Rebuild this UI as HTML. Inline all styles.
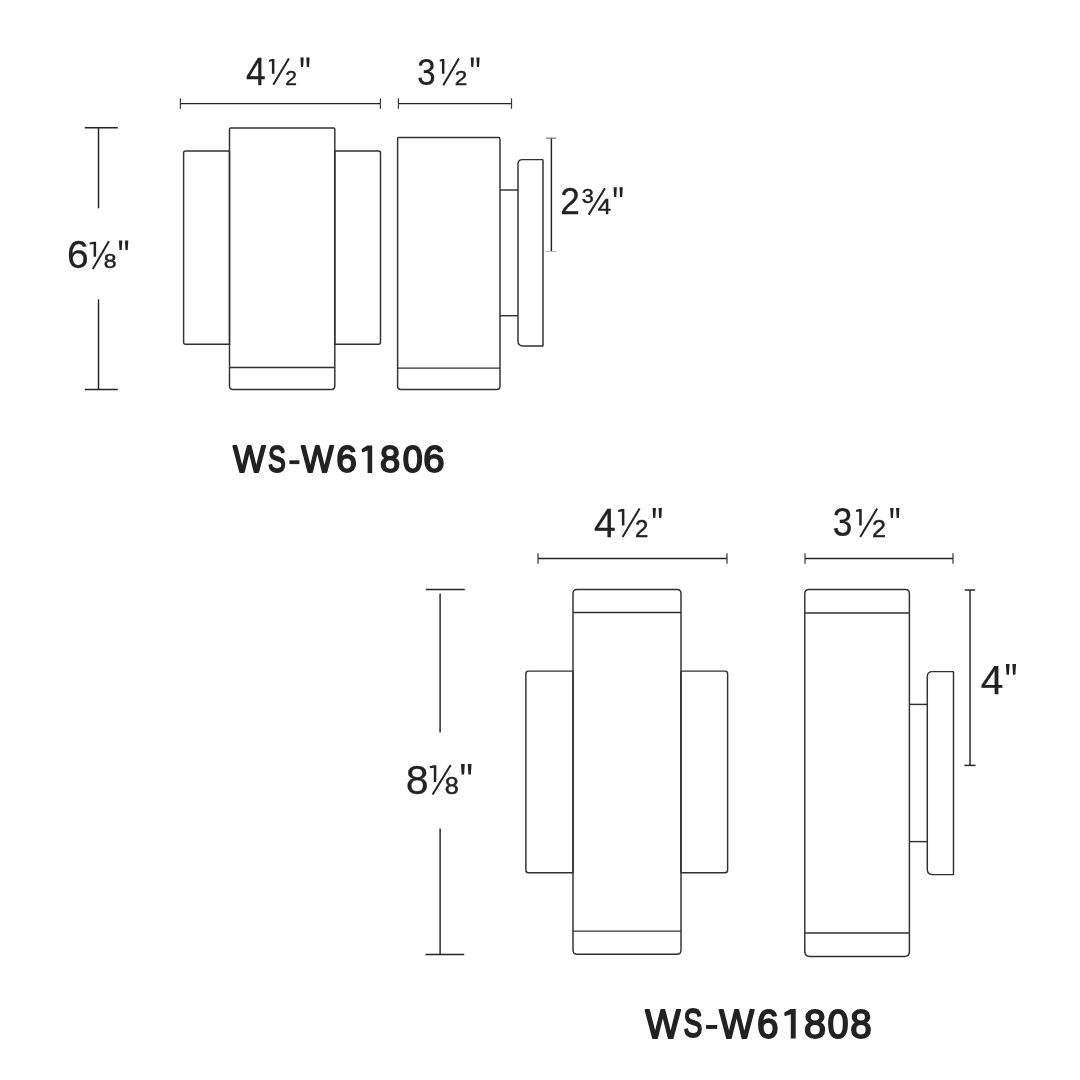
<!DOCTYPE html>
<html><head><meta charset="utf-8"><title>WS-W618 dimensions</title>
<style>
html,body{margin:0;padding:0;background:#fff;}
body{width:1080px;height:1080px;overflow:hidden;}
svg{display:block;will-change:transform;}
text{font-family:"Liberation Sans",sans-serif;font-kerning:none;}
</style></head><body>
<svg width="1080" height="1080" viewBox="0 0 1080 1080">
<rect width="1080" height="1080" fill="#fff"/>
<line x1="180.40" y1="103.60" x2="380.40" y2="103.60" stroke="#222" stroke-width="1.45" stroke-linecap="butt"/>
<line x1="180.40" y1="98.40" x2="180.40" y2="108.80" stroke="#3a3a3a" stroke-width="1.25" stroke-linecap="butt"/>
<line x1="380.40" y1="98.40" x2="380.40" y2="108.80" stroke="#3a3a3a" stroke-width="1.25" stroke-linecap="butt"/>
<line x1="398.40" y1="103.60" x2="511.50" y2="103.60" stroke="#222" stroke-width="1.45" stroke-linecap="butt"/>
<line x1="398.40" y1="98.40" x2="398.40" y2="108.80" stroke="#3a3a3a" stroke-width="1.25" stroke-linecap="butt"/>
<line x1="511.50" y1="98.40" x2="511.50" y2="108.80" stroke="#3a3a3a" stroke-width="1.25" stroke-linecap="butt"/>
<line x1="98.50" y1="127.80" x2="98.50" y2="208.30" stroke="#222" stroke-width="1.45" stroke-linecap="butt"/>
<line x1="98.50" y1="299.40" x2="98.50" y2="389.50" stroke="#222" stroke-width="1.45" stroke-linecap="butt"/>
<line x1="84.80" y1="127.80" x2="117.80" y2="127.80" stroke="#222" stroke-width="1.45" stroke-linecap="butt"/>
<line x1="84.80" y1="389.50" x2="117.80" y2="389.50" stroke="#222" stroke-width="1.45" stroke-linecap="butt"/>
<line x1="551.40" y1="138.10" x2="551.40" y2="251.50" stroke="#222" stroke-width="1.45" stroke-linecap="butt"/>
<line x1="546.00" y1="138.10" x2="556.50" y2="138.10" stroke="#777" stroke-width="1.20" stroke-linecap="butt"/>
<line x1="546.00" y1="251.50" x2="556.50" y2="251.50" stroke="#bbb" stroke-width="1.00" stroke-linecap="butt"/>
<path d="M185.60 151.00 L229.50 151.00 L229.50 344.30 L185.60 344.30 Q183.60 344.30 183.60 342.30 L183.60 153.00 Q183.60 151.00 185.60 151.00 Z" fill="none" stroke="#303030" stroke-width="1.45" stroke-linejoin="round"/>
<path d="M334.80 151.00 L378.50 151.00 Q380.50 151.00 380.50 153.00 L380.50 342.30 Q380.50 344.30 378.50 344.30 L334.80 344.30 L334.80 151.00 Z" fill="none" stroke="#303030" stroke-width="1.45" stroke-linejoin="round"/>
<path d="M230.50 128.00 L333.80 128.00 Q334.80 128.00 334.80 129.00 L334.80 385.90 Q334.80 389.40 331.30 389.40 L233.00 389.40 Q229.50 389.40 229.50 385.90 L229.50 129.00 Q229.50 128.00 230.50 128.00 Z" fill="none" stroke="#303030" stroke-width="1.45" stroke-linejoin="round"/>
<line x1="229.50" y1="367.40" x2="334.80" y2="367.40" stroke="#303030" stroke-width="1.45" stroke-linecap="butt"/>
<path d="M398.60 137.50 L498.50 137.50 Q500.00 137.50 500.00 139.00 L500.00 385.90 Q500.00 389.40 496.50 389.40 L401.10 389.40 Q397.60 389.40 397.60 385.90 L397.60 138.50 Q397.60 137.50 398.60 137.50 Z" fill="none" stroke="#303030" stroke-width="1.45" stroke-linejoin="round"/>
<line x1="397.60" y1="368.10" x2="500.00" y2="368.10" stroke="#303030" stroke-width="1.45" stroke-linecap="butt"/>
<line x1="500.00" y1="190.00" x2="518.00" y2="190.00" stroke="#303030" stroke-width="1.45" stroke-linecap="butt"/>
<line x1="500.00" y1="315.70" x2="518.00" y2="315.70" stroke="#303030" stroke-width="1.45" stroke-linecap="butt"/>
<path d="M522.50 159.60 L542.40 159.60 Q543.00 159.60 543.00 160.20 L543.00 345.40 Q543.00 346.00 542.40 346.00 L523.00 346.00 Q518.00 346.00 518.00 341.00 L518.00 164.10 Q518.00 159.60 522.50 159.60 Z" fill="none" stroke="#303030" stroke-width="1.45" stroke-linejoin="round"/>
<line x1="538.00" y1="558.50" x2="727.00" y2="558.50" stroke="#222" stroke-width="1.45" stroke-linecap="butt"/>
<line x1="538.00" y1="553.30" x2="538.00" y2="563.70" stroke="#3a3a3a" stroke-width="1.25" stroke-linecap="butt"/>
<line x1="727.00" y1="553.30" x2="727.00" y2="563.70" stroke="#3a3a3a" stroke-width="1.25" stroke-linecap="butt"/>
<line x1="805.00" y1="558.50" x2="953.00" y2="558.50" stroke="#222" stroke-width="1.45" stroke-linecap="butt"/>
<line x1="805.00" y1="553.30" x2="805.00" y2="563.70" stroke="#3a3a3a" stroke-width="1.25" stroke-linecap="butt"/>
<line x1="953.00" y1="553.30" x2="953.00" y2="563.70" stroke="#3a3a3a" stroke-width="1.25" stroke-linecap="butt"/>
<line x1="440.10" y1="593.50" x2="440.10" y2="732.60" stroke="#222" stroke-width="1.45" stroke-linecap="butt"/>
<line x1="440.10" y1="828.50" x2="440.10" y2="954.40" stroke="#222" stroke-width="1.45" stroke-linecap="butt"/>
<line x1="425.80" y1="589.50" x2="464.80" y2="589.50" stroke="#222" stroke-width="1.45" stroke-linecap="butt"/>
<line x1="425.60" y1="954.40" x2="464.20" y2="954.40" stroke="#222" stroke-width="1.45" stroke-linecap="butt"/>
<line x1="970.00" y1="590.00" x2="970.00" y2="765.40" stroke="#222" stroke-width="1.45" stroke-linecap="butt"/>
<line x1="964.80" y1="590.00" x2="975.20" y2="590.00" stroke="#222" stroke-width="1.45" stroke-linecap="butt"/>
<line x1="964.40" y1="765.40" x2="975.60" y2="765.40" stroke="#222" stroke-width="1.45" stroke-linecap="butt"/>
<path d="M528.40 671.10 L573.00 671.10 L573.00 872.80 L528.40 872.80 Q525.90 872.80 525.90 870.30 L525.90 673.60 Q525.90 671.10 528.40 671.10 Z" fill="none" stroke="#303030" stroke-width="1.45" stroke-linejoin="round"/>
<path d="M681.00 671.10 L725.10 671.10 Q727.60 671.10 727.60 673.60 L727.60 870.30 Q727.60 872.80 725.10 872.80 L681.00 872.80 L681.00 671.10 Z" fill="none" stroke="#303030" stroke-width="1.45" stroke-linejoin="round"/>
<path d="M577.00 589.50 L677.00 589.50 Q681.00 589.50 681.00 593.50 L681.00 950.20 Q681.00 954.20 677.00 954.20 L577.00 954.20 Q573.00 954.20 573.00 950.20 L573.00 593.50 Q573.00 589.50 577.00 589.50 Z" fill="none" stroke="#303030" stroke-width="1.45" stroke-linejoin="round"/>
<line x1="573.00" y1="612.40" x2="681.00" y2="612.40" stroke="#303030" stroke-width="1.45" stroke-linecap="butt"/>
<line x1="573.00" y1="931.10" x2="681.00" y2="931.10" stroke="#303030" stroke-width="1.45" stroke-linecap="butt"/>
<path d="M808.80 589.50 L905.40 589.50 Q909.40 589.50 909.40 593.50 L909.40 951.50 Q909.40 956.50 904.40 956.50 L809.80 956.50 Q804.80 956.50 804.80 951.50 L804.80 593.50 Q804.80 589.50 808.80 589.50 Z" fill="none" stroke="#303030" stroke-width="1.45" stroke-linejoin="round"/>
<line x1="804.80" y1="613.00" x2="909.40" y2="613.00" stroke="#303030" stroke-width="1.45" stroke-linecap="butt"/>
<line x1="804.80" y1="933.00" x2="909.40" y2="933.00" stroke="#303030" stroke-width="1.45" stroke-linecap="butt"/>
<line x1="909.40" y1="704.40" x2="927.30" y2="704.40" stroke="#303030" stroke-width="1.45" stroke-linecap="butt"/>
<line x1="909.40" y1="841.60" x2="927.30" y2="841.60" stroke="#303030" stroke-width="1.45" stroke-linecap="butt"/>
<path d="M932.30 671.60 L952.90 671.60 Q953.50 671.60 953.50 672.20 L953.50 874.00 Q953.50 874.60 952.90 874.60 L932.30 874.60 Q927.30 874.60 927.30 869.60 L927.30 676.60 Q927.30 671.60 932.30 671.60 Z" fill="none" stroke="#303030" stroke-width="1.45" stroke-linejoin="round"/>
<text x="0" y="0" font-size="37.864" font-weight="normal" fill="#222"  stroke="#222" stroke-width="0.25" stroke-linejoin="round" transform="translate(246.012 84.675) scale(0.9355 1)">4</text>
<path d="M271.70 59.00 L274.40 59.00 L274.40 73.70 L271.90 73.70 L271.90 61.20 L269.30 61.79 L269.00 60.03 Z" fill="#222"/>
<text x="0" y="0" font-size="19.549" font-weight="normal" fill="#222"  stroke="#222" stroke-width="0.45" stroke-linejoin="round" transform="translate(285.171 84.575) scale(1.0723 1)">2</text>
<line x1="288.90" y1="58.50" x2="273.30" y2="84.80" stroke="#222" stroke-width="2.00" stroke-linecap="butt"/>
<path d="M300.40 57.40 L303.71 57.40 L303.12 67.00 L301.00 67.00 Z" fill="#222"/>
<path d="M306.29 57.40 L309.60 57.40 L309.00 67.00 L306.88 67.00 Z" fill="#222"/>
<text x="0" y="0" font-size="37.358" font-weight="normal" fill="#222"  stroke="#222" stroke-width="0.25" stroke-linejoin="round" transform="translate(417.368 84.710) scale(0.8836 1)">3</text>
<path d="M441.70 58.90 L444.40 58.90 L444.40 73.70 L441.90 73.70 L441.90 61.12 L439.90 61.71 L439.60 59.94 Z" fill="#222"/>
<text x="0" y="0" font-size="20.122" font-weight="normal" fill="#222"  stroke="#222" stroke-width="0.45" stroke-linejoin="round" transform="translate(454.693 84.975) scale(1.1182 1)">2</text>
<line x1="458.90" y1="58.50" x2="443.30" y2="85.20" stroke="#222" stroke-width="2.00" stroke-linecap="butt"/>
<path d="M470.70 57.40 L473.90 57.40 L473.33 67.00 L471.28 67.00 Z" fill="#222"/>
<path d="M476.40 57.40 L479.60 57.40 L479.02 67.00 L476.97 67.00 Z" fill="#222"/>
<text x="0" y="0" font-size="37.308" font-weight="normal" fill="#222"  stroke="#222" stroke-width="0.25" stroke-linejoin="round" transform="translate(560.353 214.475) scale(0.9443 1)">2</text>
<text x="0" y="0" font-size="20.268" font-weight="normal" fill="#222"  stroke="#222" stroke-width="0.45" stroke-linejoin="round" transform="translate(581.802 203.077) scale(1.0666 1)">3</text>
<text x="0" y="0" font-size="22.457" font-weight="normal" fill="#222"  stroke="#222" stroke-width="0.45" stroke-linejoin="round" transform="translate(597.676 214.375) scale(1.0649 1)">4</text>
<line x1="605.00" y1="188.30" x2="588.70" y2="214.60" stroke="#222" stroke-width="2.00" stroke-linecap="butt"/>
<path d="M613.50 187.20 L616.85 187.20 L616.25 196.90 L614.10 196.90 Z" fill="#222"/>
<path d="M619.45 187.20 L622.80 187.20 L622.20 196.90 L620.05 196.90 Z" fill="#222"/>
<text x="0" y="0" font-size="38.065" font-weight="normal" fill="#222"  stroke="#222" stroke-width="0.25" stroke-linejoin="round" transform="translate(67.039 267.803) scale(1.0277 1)">6</text>
<path d="M93.40 241.70 L96.10 241.70 L96.10 256.70 L93.60 256.70 L93.60 243.95 L89.70 244.55 L89.40 242.75 Z" fill="#222"/>
<text x="0" y="0" font-size="20.551" font-weight="normal" fill="#222"  stroke="#222" stroke-width="0.45" stroke-linejoin="round" transform="translate(103.629 267.874) scale(1.1148 1)">8</text>
<line x1="108.90" y1="241.30" x2="92.80" y2="268.90" stroke="#222" stroke-width="2.00" stroke-linecap="butt"/>
<path d="M118.90 240.60 L122.28 240.60 L121.67 250.00 L119.51 250.00 Z" fill="#222"/>
<path d="M124.92 240.60 L128.30 240.60 L127.69 250.00 L125.53 250.00 Z" fill="#222"/>
<text x="0" y="0" font-size="41.062" font-weight="normal" fill="#222"  stroke="#222" stroke-width="0.25" stroke-linejoin="round" transform="translate(594.026 536.875) scale(0.9545 1)">4</text>
<path d="M621.70 508.90 L624.40 508.90 L624.40 525.60 L621.90 525.60 L621.90 511.40 L618.30 512.07 L618.00 510.07 Z" fill="#222"/>
<text x="0" y="0" font-size="23.702" font-weight="normal" fill="#222"  stroke="#222" stroke-width="0.45" stroke-linejoin="round" transform="translate(635.016 536.775) scale(1.0141 1)">2</text>
<line x1="639.60" y1="508.50" x2="622.60" y2="537.00" stroke="#222" stroke-width="2.00" stroke-linecap="butt"/>
<path d="M652.60 508.10 L655.95 508.10 L655.35 518.10 L653.20 518.10 Z" fill="#222"/>
<path d="M658.55 508.10 L661.90 508.10 L661.30 518.10 L659.15 518.10 Z" fill="#222"/>
<text x="0" y="0" font-size="39.901" font-weight="normal" fill="#222"  stroke="#222" stroke-width="0.25" stroke-linejoin="round" transform="translate(832.679 536.485) scale(0.8854 1)">3</text>
<path d="M859.00 508.90 L861.70 508.90 L861.70 525.60 L859.20 525.60 L859.20 511.40 L856.30 512.07 L856.00 510.07 Z" fill="#222"/>
<text x="0" y="0" font-size="23.702" font-weight="normal" fill="#222"  stroke="#222" stroke-width="0.45" stroke-linejoin="round" transform="translate(872.061 536.775) scale(1.0604 1)">2</text>
<line x1="877.20" y1="508.50" x2="860.20" y2="537.00" stroke="#222" stroke-width="2.00" stroke-linecap="butt"/>
<path d="M890.20 508.10 L893.51 508.10 L892.92 518.10 L890.80 518.10 Z" fill="#222"/>
<path d="M896.09 508.10 L899.40 508.10 L898.80 518.10 L896.68 518.10 Z" fill="#222"/>
<text x="0" y="0" font-size="40.889" font-weight="normal" fill="#222"  stroke="#222" stroke-width="0.25" stroke-linejoin="round" transform="translate(405.733 793.876) scale(1.0085 1)">8</text>
<path d="M433.60 765.20 L436.30 765.20 L436.30 781.90 L433.80 781.90 L433.80 767.71 L429.90 768.37 L429.60 766.37 Z" fill="#222"/>
<text x="0" y="0" font-size="23.940" font-weight="normal" fill="#222"  stroke="#222" stroke-width="0.45" stroke-linejoin="round" transform="translate(444.628 793.941) scale(1.0549 1)">8</text>
<line x1="450.70" y1="765.00" x2="432.60" y2="794.40" stroke="#222" stroke-width="2.00" stroke-linecap="butt"/>
<path d="M461.00 764.00 L464.78 764.00 L464.10 774.40 L461.68 774.40 Z" fill="#222"/>
<path d="M467.72 764.00 L471.50 764.00 L470.82 774.40 L468.40 774.40 Z" fill="#222"/>
<text x="0" y="0" font-size="41.062" font-weight="normal" fill="#222"  stroke="#222" stroke-width="0.25" stroke-linejoin="round" transform="translate(980.694 693.575) scale(0.9883 1)">4</text>
<path d="M1005.90 664.00 L1009.54 664.00 L1008.88 674.80 L1006.55 674.80 Z" fill="#222"/>
<path d="M1012.36 664.00 L1016.00 664.00 L1015.35 674.80 L1013.02 674.80 Z" fill="#222"/>
<text x="0" y="0" font-size="37.210" font-weight="normal" fill="#222"  stroke="#222" stroke-width="1.80" stroke-linejoin="round" transform="translate(232.949 472.100) scale(0.9216 1)">W</text>
<text x="0" y="0" font-size="36.864" font-weight="normal" fill="#222"  stroke="#222" stroke-width="2.00" stroke-linejoin="round" transform="translate(268.093 471.990) scale(0.7209 1)">S</text>
<rect x="289.40" y="460.30" width="10.00" height="3.80" fill="#222"/>
<text x="0" y="0" font-size="37.210" font-weight="normal" fill="#222"  stroke="#222" stroke-width="1.80" stroke-linejoin="round" transform="translate(301.350 472.100) scale(0.9188 1)">W</text>
<text x="0" y="0" font-size="37.146" font-weight="normal" fill="#222"  stroke="#222" stroke-width="1.80" stroke-linejoin="round" transform="translate(336.218 472.087) scale(0.9976 1)">6</text>
<path d="M367.40 445.60 L372.20 445.60 L372.20 473.00 L367.60 473.00 L367.60 450.53 L362.00 452.45 L361.70 448.89 Z" fill="#222"/>
<text x="0" y="0" font-size="37.146" font-weight="normal" fill="#222"  stroke="#222" stroke-width="1.80" stroke-linejoin="round" transform="translate(379.926 472.087) scale(0.9753 1)">8</text>
<text x="0" y="0" font-size="37.146" font-weight="normal" fill="#222"  stroke="#222" stroke-width="1.80" stroke-linejoin="round" transform="translate(402.803 472.087) scale(0.9630 1)">0</text>
<text x="0" y="0" font-size="37.146" font-weight="normal" fill="#222"  stroke="#222" stroke-width="1.80" stroke-linejoin="round" transform="translate(423.352 472.087) scale(1.0327 1)">6</text>
<text x="0" y="0" font-size="40.408" font-weight="normal" fill="#222"  stroke="#222" stroke-width="1.80" stroke-linejoin="round" transform="translate(645.136 1037.600) scale(0.9227 1)">W</text>
<text x="0" y="0" font-size="39.971" font-weight="normal" fill="#222"  stroke="#222" stroke-width="2.00" stroke-linejoin="round" transform="translate(683.614 1037.460) scale(0.7084 1)">S</text>
<rect x="706.10" y="1025.00" width="11.10" height="3.90" fill="#222"/>
<text x="0" y="0" font-size="40.408" font-weight="normal" fill="#222"  stroke="#222" stroke-width="1.80" stroke-linejoin="round" transform="translate(719.238 1037.600) scale(0.9121 1)">W</text>
<text x="0" y="0" font-size="40.254" font-weight="normal" fill="#222"  stroke="#222" stroke-width="1.80" stroke-linejoin="round" transform="translate(757.030 1037.557) scale(0.9637 1)">6</text>
<path d="M790.60 1008.90 L795.70 1008.90 L795.70 1038.50 L790.80 1038.50 L790.80 1014.23 L784.60 1016.30 L784.30 1012.45 Z" fill="#222"/>
<text x="0" y="0" font-size="40.254" font-weight="normal" fill="#222"  stroke="#222" stroke-width="1.80" stroke-linejoin="round" transform="translate(803.977 1037.557) scale(0.9847 1)">8</text>
<text x="0" y="0" font-size="40.254" font-weight="normal" fill="#222"  stroke="#222" stroke-width="1.80" stroke-linejoin="round" transform="translate(827.621 1037.557) scale(0.9406 1)">0</text>
<text x="0" y="0" font-size="40.254" font-weight="normal" fill="#222"  stroke="#222" stroke-width="1.80" stroke-linejoin="round" transform="translate(850.324 1037.557) scale(0.9582 1)">8</text>
</svg>
</body></html>
